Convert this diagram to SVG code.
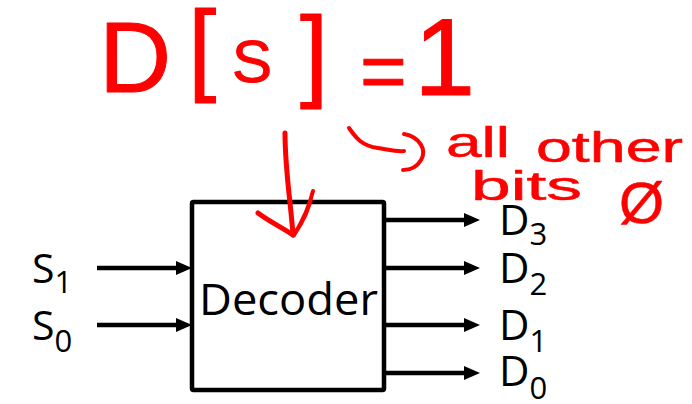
<svg xmlns="http://www.w3.org/2000/svg" width="692" height="404" viewBox="0 0 692 404">
  <style>
    .wire { stroke: #000; stroke-width: 4.5; fill: none; }
    .box { fill: #fff; stroke: #000; stroke-width: 4.5; }
    .lbl { font-family: "Open Sans", "Liberation Sans", sans-serif; fill: #000; }
    .ink { font-family: "Liberation Sans", "DejaVu Sans", sans-serif; fill: #f00; stroke: #f00; stroke-linejoin: round; }
    .pen { fill: none; stroke: #f00; stroke-linecap: round; stroke-linejoin: round; }
  </style>
  <defs>
    <marker id="head" markerUnits="userSpaceOnUse" viewBox="0 0 16 14" refX="6" refY="7" markerWidth="16" markerHeight="14" orient="auto">
      <path d="M0,0 L16,7 L0,14 z" fill="#000"/>
    </marker>
  </defs>

  <rect width="692" height="404" fill="#fff"/>

  <!-- decoder block -->
  <g id="decoder">
    <rect class="box" x="192" y="202" width="192" height="188" rx="1.5"/>
    <text class="lbl" x="199" y="315" font-size="43" textLength="179" lengthAdjust="spacingAndGlyphs">Decoder</text>
  </g>

  <!-- select inputs -->
  <g id="s1">
    <text class="lbl" x="32" y="283" font-size="41">S<tspan font-size="31" dy="10">1</tspan></text>
  </g>
  <g id="s0">
    <text class="lbl" x="32" y="340" font-size="41">S<tspan font-size="31" dy="12">0</tspan></text>
  </g>

  <!-- data outputs -->
  <g id="d3">
    <text class="lbl" x="499" y="235" font-size="42">D<tspan font-size="31" dy="10">3</tspan></text>
  </g>
  <g id="d2">
    <text class="lbl" x="499" y="283" font-size="42">D<tspan font-size="31" dy="12">2</tspan></text>
  </g>
  <g id="d1">
    <text class="lbl" x="499" y="340" font-size="42">D<tspan font-size="31" dy="12">1</tspan></text>
  </g>
  <g id="d0">
    <text class="lbl" x="499" y="386" font-size="42">D<tspan font-size="31" dy="13">0</tspan></text>
  </g>

  <!-- signal wires -->
  <g id="connectors">
    <line class="wire" x1="97" y1="268" x2="182" y2="268" marker-end="url(#head)"/>
    <line class="wire" x1="97" y1="325" x2="182" y2="325" marker-end="url(#head)"/>
    <line class="wire" x1="384" y1="220" x2="470" y2="220" marker-end="url(#head)"/>
    <line class="wire" x1="384" y1="268" x2="470" y2="268" marker-end="url(#head)"/>
    <line class="wire" x1="384" y1="325" x2="470" y2="325" marker-end="url(#head)"/>
    <line class="wire" x1="384" y1="373" x2="470" y2="373" marker-end="url(#head)"/>
  </g>

  <!-- red annotation -->
  <g id="annotation">
    <text class="ink" stroke-width="1" font-size="100" x="99" y="92">D</text>
    <text class="ink" stroke-width="1" font-size="102" x="188" y="82">[</text>
    <text class="ink" stroke-width="1" font-size="60" x="232" y="82">S</text>
    <text class="ink" stroke-width="1" font-size="102" x="300" y="88">]</text>
    <text class="ink" stroke-width="1" font-size="80" x="360" y="98">=</text>
    <text class="ink" stroke-width="1" font-size="110" x="414" y="95">1</text>

    <text class="ink" stroke-width="0.5" font-size="42" x="446" y="157" textLength="64" lengthAdjust="spacingAndGlyphs">all</text>
    <text class="ink" stroke-width="0.5" font-size="42" x="536" y="162" textLength="147" lengthAdjust="spacingAndGlyphs">other</text>
    <text class="ink" stroke-width="0.5" font-size="40" x="471" y="200" textLength="111" lengthAdjust="spacingAndGlyphs">bits</text>
    <text class="ink" stroke-width="0.5" font-size="58" x="619" y="223">Ø</text>

    <!-- curved pointer -->
    <path class="pen" stroke-width="4" d="M349,128 C356,138 362,146 378,148 C390,150 398,152 404,151"/>
    <path class="pen" stroke-width="4" d="M404,134 C420,137 427,150 421,160 C417,167 410,170 403,170"/>

    <!-- down arrow into the block -->
    <path class="pen" stroke-width="5" d="M285,133 C285,170 291,205 293,235"/>
    <path class="pen" stroke-width="5" d="M258,213 C270,222 283,228 293,235"/>
    <path class="pen" stroke-width="4" d="M313,191 C309,208 302,222 294,235 C303,222 310,206 312,194"/>
  </g>
</svg>
